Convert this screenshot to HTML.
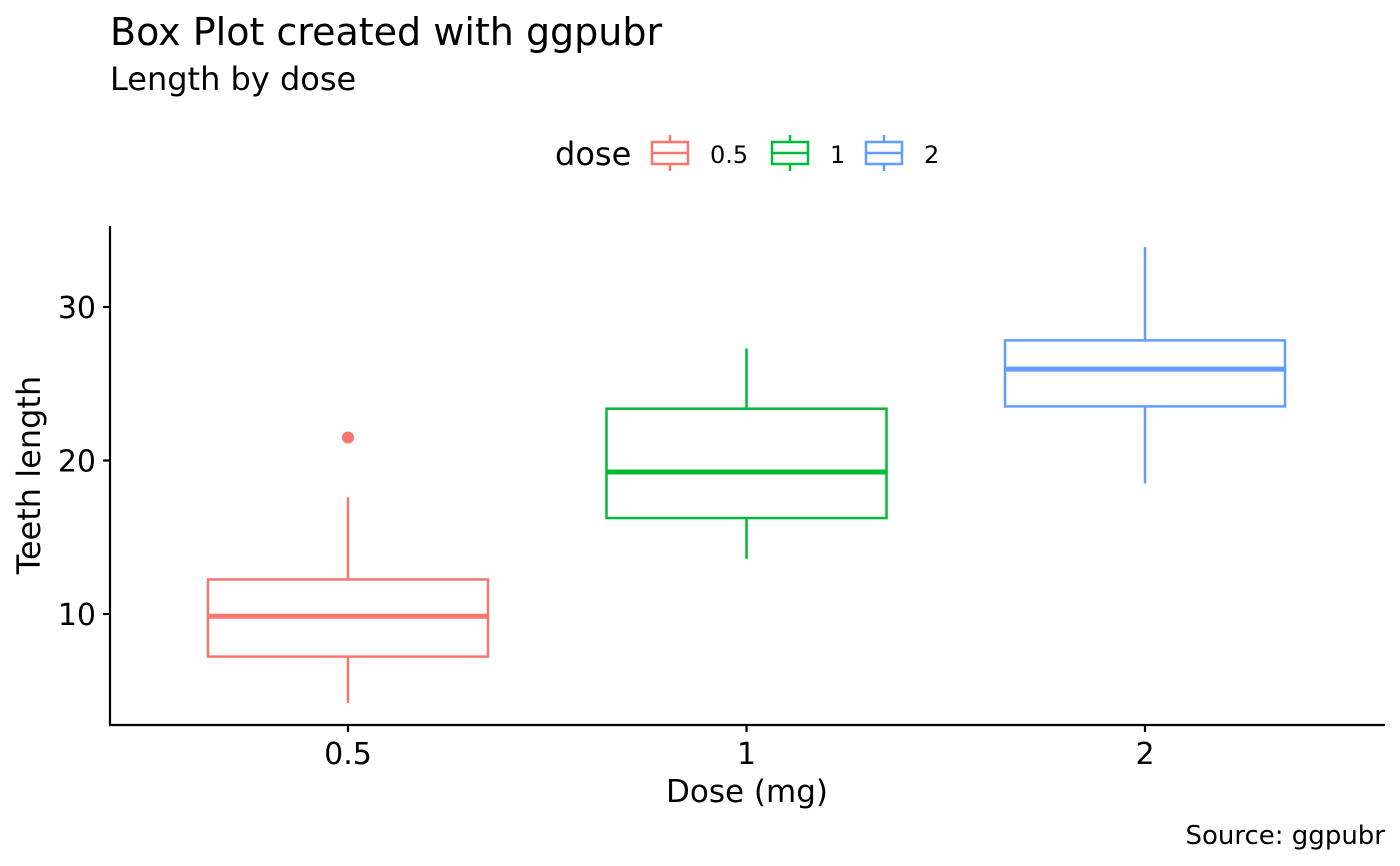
<!DOCTYPE html>
<html><head><meta charset="utf-8"><style>
body{margin:0;background:#fff;}
svg{display:block;font-family:"DejaVu Sans","Liberation Sans",sans-serif;}
</style></head><body>
<svg id="chart" width="1400" height="866">
<text x="110" y="45" font-size="38" fill="#000">Box Plot created with ggpubr</text>
<text x="110" y="90" font-size="32" fill="#000">Length by dose</text>
<g id="legend">
<text x="555" y="165" font-size="32" fill="#000">dose</text>
</g>
<line x1="110" y1="226" x2="110" y2="725" stroke="#000" stroke-width="2.2"/>
<line x1="109" y1="725" x2="1385" y2="725" stroke="#000" stroke-width="2.2"/>
<g id="yticks"></g>
<g id="xticks"></g>
<g id="boxes"></g>
<text x="747" y="802" font-size="31" text-anchor="middle" fill="#000">Dose (mg)</text>
<text transform="translate(40,475) rotate(-90)" font-size="32" text-anchor="middle" fill="#000">Teeth length</text>
<text x="1385" y="844" font-size="26" text-anchor="end" fill="#000">Source: ggpubr</text>
</svg>
<script>
const categories = ["0.5","1","2"];
const colors = ["#F8766D","#00BA38","#619CFF"];
const mins = [4.2,13.6,18.5];
const q1s = [7.225,16.25,23.525];
const medians = [9.85,19.25,25.95];
const q3s = [12.25,23.375,27.825];
const maxs = [17.6,27.3,33.9];
const outliers = [[21.5],[],[]];
const yTicks = [10,20,30];

const NS="http://www.w3.org/2000/svg";
function y(v){return 614-(v-10)*15.35;}
function x(i){return 348+i*398.5;}
const boxW=280;
function mk(tag,attrs,parent){const e=document.createElementNS(NS,tag);for(const k in attrs)e.setAttribute(k,attrs[k]);parent.appendChild(e);return e;}

const yg=document.getElementById('yticks');
yTicks.forEach(t=>{
  const l=mk('line',{x1:103,x2:110,y1:y(t),y2:y(t),stroke:'#000','stroke-width':2.2},yg);
  
  
  const tx=mk('text',{x:96,y:y(t)+11,'font-size':30,'text-anchor':'end',fill:'#000'},yg);
  tx.textContent=t;
  
  
});
const xg=document.getElementById('xticks');
categories.forEach((c,i)=>{
  const l=mk('line',{x1:x(i),x2:x(i),y1:725,y2:732,stroke:'#000','stroke-width':2.2},xg);
  
  
  const tx=mk('text',{x:x(i),y:764,'font-size':30,'text-anchor':'middle',fill:'#000'},xg);
  tx.textContent=c;
  
  
});
const bg=document.getElementById('boxes');
categories.forEach((c,i)=>{
  const g=mk('g',{},bg);
  
  
  const col=colors[i],cx=x(i);
  mk('line',{x1:cx,x2:cx,y1:y(q1s[i]),y2:y(mins[i]),stroke:col,'stroke-width':2.5},g);
  mk('line',{x1:cx,x2:cx,y1:y(q3s[i]),y2:y(maxs[i]),stroke:col,'stroke-width':2.5},g);
  mk('rect',{x:cx-boxW/2,y:y(q3s[i]),width:boxW,height:y(q1s[i])-y(q3s[i]),fill:'#fff',stroke:col,'stroke-width':2.5},g);
  mk('line',{x1:cx-boxW/2,x2:cx+boxW/2,y1:y(medians[i]),y2:y(medians[i]),stroke:col,'stroke-width':5},g);
  outliers[i].forEach(o=>{
    const p=mk('circle',{cx:cx,cy:y(o),r:6,fill:col},g);
    
    
  });
});
const lg=document.getElementById('legend');
const lx=[652,772,866];
categories.forEach((c,i)=>{
  const g=mk('g',{},lg);
  
  
  const col=colors[i],x0=lx[i];
  mk('line',{x1:x0+18,x2:x0+18,y1:135,y2:171,stroke:col,'stroke-width':2.5},g);
  mk('rect',{x:x0,y:142,width:36,height:22,fill:'#fff',stroke:col,'stroke-width':2.5},g);
  mk('line',{x1:x0,x2:x0+36,y1:153,y2:153,stroke:col,'stroke-width':2.5},g);
  const t=mk('text',{x:x0+58,y:163,'font-size':24,fill:'#000'},g);
  t.textContent=c;
});
</script>
</body></html>
